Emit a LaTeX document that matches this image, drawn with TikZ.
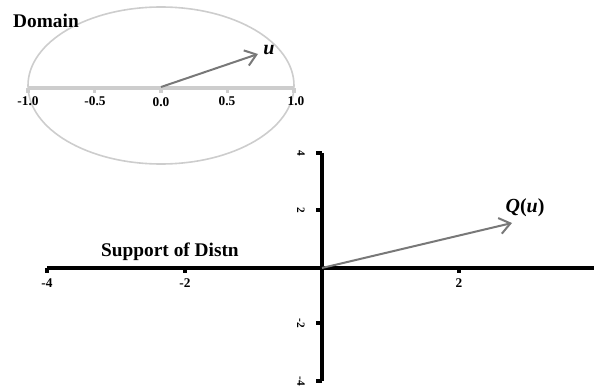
\documentclass[tikz,border=0pt]{standalone}
\usepackage{fontspec}
\setmainfont{Liberation Serif}
\usetikzlibrary{arrows.meta}

\begin{document}
\begin{tikzpicture}[x=0.75pt,y=0.75pt,yscale=-1,xscale=1]
\path [use as bounding box] (0,0) rectangle (594,389);

\tikzset{
  vecarrow/.style={color={rgb, 255:red, 120; green, 120; blue, 120 }, line width=1.5,
    -{Straight Barb[length=8pt,width=12pt,line width=1.5pt]}},
  lightaxis/.style={color={rgb, 255:red, 205; green, 205; blue, 205 }, line width=2.5},
  boldaxis/.style={color=black, line width=3.2},
  ticklab/.style={font=\bfseries\fontsize{10}{12}\selectfont},
  ticklabv/.style={font=\bfseries\fontsize{8.5}{10}\selectfont, rotate=-90},
  title/.style={font=\bfseries\fontsize{14.5}{17}\selectfont},
  veclab/.style={font=\bfseries\fontsize{15}{18}\selectfont}
}

%Shape: Ellipse
\draw [color={rgb, 255:red, 205; green, 205; blue, 205 }, line width=1.2] (161,85.5) ellipse (133 and 78.5);

%Straight Lines
\draw [lightaxis] (28,88) -- (294,88);
\foreach \x in {28,94.5,161,227.5,294}
  \draw [lightaxis] (\x,88) -- (\x,93);

% Text Node
\node [ticklab] (dm10) at (28,101) {-1.0};
\node [ticklab] (dm05) at (95,101) {-0.5};
\node [ticklab] (d00) at (161,102) {0.0};
\node [ticklab] (d05) at (227,101) {0.5};
\node [ticklab] (d10) at (296,101) {1.0};

% Text Node
\node [title] (domain) at (46,21) {Domain};

%Straight Lines
\coordinate (dorig) at (161,87);
\coordinate (utip) at (258,54);
\draw [vecarrow] (dorig) -- (utip);
\node [veclab] (ulab) at (269,50) {\itshape u};

%Straight Lines
\draw [boldaxis] (47,268) -- (594,268);
\foreach \x in {47,185,322,459}
  \draw [boldaxis] (\x,268) -- (\x,273);
\draw [boldaxis] (322,153) -- (322,381);
\foreach \y in {153,210,323,381}
  \draw [boldaxis] (322,\y) -- (316,\y);

% Text Node
\node [ticklab] (hm4) at (47,283) {-4};
\node [ticklab] (hm2) at (185,283) {-2};
\node [ticklab] (hp2) at (459,283) {2};
\node [ticklabv] (vp4) at (301,153) {4};
\node [ticklabv] (vp2) at (301,210) {2};
\node [ticklabv] (vm2) at (301,323) {-2};
\node [ticklabv] (vm4) at (301,381) {-4};

% Text Node
\node [title] (support) at (170,252) {Support of Distn};

%Straight Lines
\coordinate (sorig) at (322,268);
\coordinate (qtip) at (512,223);
\draw [vecarrow] (sorig) -- (qtip);
\node [veclab] (qlab) at (525,208) {\textit{Q}(\textit{u})};

\end{tikzpicture}
\end{document}
